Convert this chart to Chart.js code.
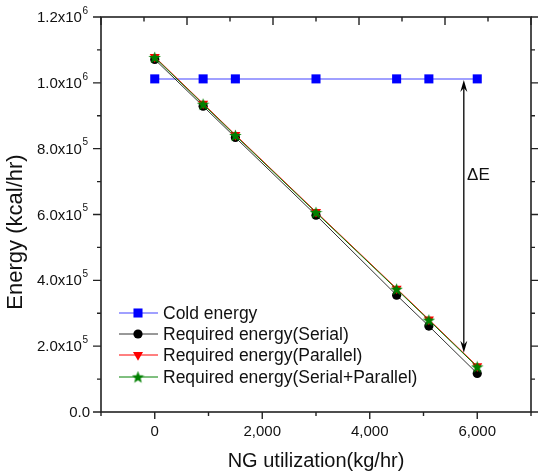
<!DOCTYPE html>
<html>
<head>
<meta charset="utf-8">
<script src="https://cdn.jsdelivr.net/npm/chart.js@4.4.1/dist/chart.umd.min.js"></script>
<style>
  html, body { margin: 0; padding: 0; background: #fff; }
  #wrap { width: 538px; height: 474px; }
</style>
</head>
<body>
<div id="wrap"><canvas id="chart" width="538" height="474"></canvas></div>
<script>
// data
const ngUtilization = [0, 900, 1500, 3000, 4500, 5100, 6000];
const coldEnergy = [1.012e6, 1.012e6, 1.012e6, 1.012e6, 1.012e6, 1.012e6, 1.012e6];
const serialEnergy = [1.071e6, 0.929e6, 0.834e6, 0.598e6, 0.355e6, 0.261e6, 0.117e6];
const parallelEnergy = [1.079e6, 0.937e6, 0.842e6, 0.608e6, 0.375e6, 0.281e6, 0.139e6];
const serialParallelEnergy = [1.077e6, 0.935e6, 0.840e6, 0.606e6, 0.373e6, 0.279e6, 0.137e6];

const seriesNames = ['Cold energy', 'Required energy(Serial)', 'Required energy(Parallel)', 'Required energy(Serial+Parallel)'];

// axis ticks
const xMajorTicks = [0, 2000, 4000, 6000];
const xTickLabels = ['0', '2,000', '4,000', '6,000'];
const xMinorTicks = [-1000, 1000, 3000, 5000, 7000];
const yMajorTicks = [0, 2e5, 4e5, 6e5, 8e5, 1e6, 1.2e6];
const yTickMantissa = ['0.0', '2.0x10', '4.0x10', '6.0x10', '8.0x10', '1.0x10', '1.2x10'];
const yTickExponent = ['', '5', '5', '5', '5', '6', '6'];
const yMinorTicks = [1e5, 3e5, 5e5, 7e5, 9e5, 1.1e6];
const topMajorTicks = [0, 2, 4, 6, 8, 10];
const topMinorTicks = [1, 3, 5, 7, 9];

// Delta E arrow (x value, from / to energy)
const deltaArrowX = 5750;
const deltaArrowFrom = 1.012e6;
const deltaArrowTo = 0.18e6;
const deltaLabelPos = [5810, 0.72e6];

const FONT = '"Liberation Sans", Arial, sans-serif';

function makeStar(color, size) {
    const c = document.createElement('canvas');
    c.width = size; c.height = size;
    const g = c.getContext('2d');
    const cx = size / 2, cy = size / 2 + 0.5;
    const ro = size / 2, ri = ro * 0.42;
    g.beginPath();
    for (let i = 0; i < 10; i++) {
        const r = i % 2 === 0 ? ro : ri;
        const a = -Math.PI / 2 + i * Math.PI / 5;
        const px = cx + r * Math.cos(a), py = cy + r * Math.sin(a);
        if (i === 0) g.moveTo(px, py); else g.lineTo(px, py);
    }
    g.closePath();
    g.fillStyle = color;
    g.fill();
    return c;
}
const starImg = makeStar('#008000', 13);

function toPoints(arr) {
    return ngUtilization.map((x, i) => ({ x: x, y: arr[i] }));
}

const styles = [
    { line: '#a0a0ff', fill: '#0000ff', pointStyle: 'rect', radius: 6.4, rotation: 0, width: 2 },
    { line: '#333333', fill: '#000000', pointStyle: 'circle', radius: 4.6, rotation: 0, width: 1 },
    { line: '#ff0000', fill: '#ff0000', pointStyle: 'triangle', radius: 5.8, rotation: 180, width: 1 },
    { line: '#008000', fill: '#008000', pointStyle: starImg, radius: 6.5, rotation: 0, width: 1 }
];
const seriesData = [coldEnergy, serialEnergy, parallelEnergy, serialParallelEnergy];
const drawOrder = [3, 2, 1, 0];

const datasets = seriesData.map((arr, i) => ({
    label: seriesNames[i],
    data: toPoints(arr),
    borderColor: styles[i].line,
    borderWidth: styles[i].width,
    backgroundColor: styles[i].fill,
    pointBackgroundColor: styles[i].fill,
    pointBorderColor: styles[i].fill,
    pointBorderWidth: 0,
    pointStyle: styles[i].pointStyle,
    pointRadius: styles[i].radius,
    pointRotation: styles[i].rotation,
    tension: 0,
    order: drawOrder[i]
}));

function drawMarker(ctx, st, x, y) {
    ctx.save();
    ctx.fillStyle = st.fill;
    ctx.strokeStyle = st.fill;
    Chart.helpers.drawPoint(ctx, { pointStyle: st.pointStyle, radius: st.radius, rotation: st.rotation, borderWidth: 0 }, x, y);
    ctx.restore();
}

const framePlugin = {
    id: 'frame',
    afterDraw(chart) {
        const ctx = chart.ctx;
        const a = chart.chartArea;
        const xs = chart.scales.x, ys = chart.scales.y, xt = chart.scales.x2;
        ctx.save();
        ctx.strokeStyle = '#222';
        ctx.lineWidth = 1.6;
        ctx.strokeRect(a.left, a.top, a.right - a.left, a.bottom - a.top);

        ctx.lineWidth = 1.4;
        ctx.beginPath();
        // bottom ticks (out)
        xMajorTicks.forEach(v => { const p = xs.getPixelForValue(v); ctx.moveTo(p, a.bottom); ctx.lineTo(p, a.bottom + 7); });
        xMinorTicks.forEach(v => { const p = xs.getPixelForValue(v); ctx.moveTo(p, a.bottom); ctx.lineTo(p, a.bottom + 4); });
        // top ticks (in)
        topMajorTicks.forEach(v => { const p = xt.getPixelForValue(v); ctx.moveTo(p, a.top); ctx.lineTo(p, a.top + 8); });
        topMinorTicks.forEach(v => { const p = xt.getPixelForValue(v); ctx.moveTo(p, a.top); ctx.lineTo(p, a.top + 4.5); });
        // left and right ticks (out)
        yMajorTicks.forEach(v => {
            const p = ys.getPixelForValue(v);
            ctx.moveTo(a.left, p); ctx.lineTo(a.left - 8, p);
            ctx.moveTo(a.right, p); ctx.lineTo(a.right + 7, p);
        });
        yMinorTicks.forEach(v => {
            const p = ys.getPixelForValue(v);
            ctx.moveTo(a.left, p); ctx.lineTo(a.left - 4, p);
            ctx.moveTo(a.right, p); ctx.lineTo(a.right + 4, p);
        });
        ctx.stroke();

        // tick labels
        ctx.fillStyle = '#111';
        ctx.font = '15px ' + FONT;
        ctx.textAlign = 'center';
        ctx.textBaseline = 'middle';
        xMajorTicks.forEach((v, i) => ctx.fillText(xTickLabels[i], xs.getPixelForValue(v), a.bottom + 20));

        yMajorTicks.forEach((v, i) => {
            const p = ys.getPixelForValue(v);
            let right = a.left - 13;
            ctx.textBaseline = 'middle';
            if (yTickExponent[i]) {
                ctx.font = '10px ' + FONT;
                ctx.textAlign = 'right';
                ctx.fillText(yTickExponent[i], right, p - 6);
                right -= ctx.measureText(yTickExponent[i]).width + 0.5;
            } else {
                right += 2;
            }
            ctx.font = '15px ' + FONT;
            ctx.textAlign = 'right';
            ctx.fillText(yTickMantissa[i], right, p + 1);
        });

        // axis titles
        ctx.font = '20px ' + FONT;
        ctx.textAlign = 'center';
        ctx.fillText('NG utilization(kg/hr)', (a.left + a.right) / 2, 461);
        ctx.save();
        ctx.translate(16, 232);
        ctx.rotate(-Math.PI / 2);
        ctx.font = '22px ' + FONT;
        ctx.fillText('Energy (kcal/hr)', 0, 0);
        ctx.restore();

        // delta E arrow
        const ax = xs.getPixelForValue(deltaArrowX);
        const y1 = ys.getPixelForValue(deltaArrowFrom) + 1;
        const y2 = ys.getPixelForValue(deltaArrowTo);
        ctx.strokeStyle = '#000';
        ctx.lineWidth = 1.3;
        ctx.beginPath();
        ctx.moveTo(ax, y1 + 6); ctx.lineTo(ax, y2 - 6);
        ctx.stroke();
        ctx.fillStyle = '#000';
        ctx.beginPath();
        ctx.moveTo(ax, y1); ctx.lineTo(ax - 3.5, y1 + 12); ctx.lineTo(ax, y1 + 8); ctx.lineTo(ax + 3.5, y1 + 12); ctx.closePath();
        ctx.fill();
        ctx.beginPath();
        ctx.moveTo(ax, y2); ctx.lineTo(ax - 3.5, y2 - 12); ctx.lineTo(ax, y2 - 8); ctx.lineTo(ax + 3.5, y2 - 12); ctx.closePath();
        ctx.fill();
        ctx.font = '17px ' + FONT;
        ctx.textAlign = 'left';
        ctx.fillStyle = '#111';
        ctx.fillText('\u0394E', xs.getPixelForValue(deltaLabelPos[0]), ys.getPixelForValue(deltaLabelPos[1]));

        // legend
        const rows = [313, 334, 355, 377];
        seriesNames.forEach((name, i) => {
            const st = styles[i];
            const ry = rows[i];
            ctx.strokeStyle = st.line;
            ctx.lineWidth = st.width;
            ctx.beginPath();
            ctx.moveTo(119, ry); ctx.lineTo(158, ry);
            ctx.stroke();
            drawMarker(ctx, st, 138, ry);
            ctx.fillStyle = '#111';
            ctx.font = '17.5px ' + FONT;
            ctx.textAlign = 'left';
            ctx.textBaseline = 'middle';
            ctx.fillText(name, 163, ry + 1);
        });
        ctx.restore();
    }
};

new Chart(document.getElementById('chart'), {
    type: 'line',
    data: { datasets: datasets },
    options: {
        responsive: false,
        animation: false,
        layout: { padding: { left: 101, right: 7, top: 17, bottom: 62 } },
        scales: {
            x: { type: 'linear', min: -1000, max: 7000, display: false },
            x2: { type: 'linear', position: 'top', min: 0, max: 10, display: false },
            y: { type: 'linear', min: 0, max: 1.2e6, display: false }
        },
        plugins: { legend: { display: false }, tooltip: { enabled: false } }
    },
    plugins: [framePlugin]
});
</script>
</body>
</html>
